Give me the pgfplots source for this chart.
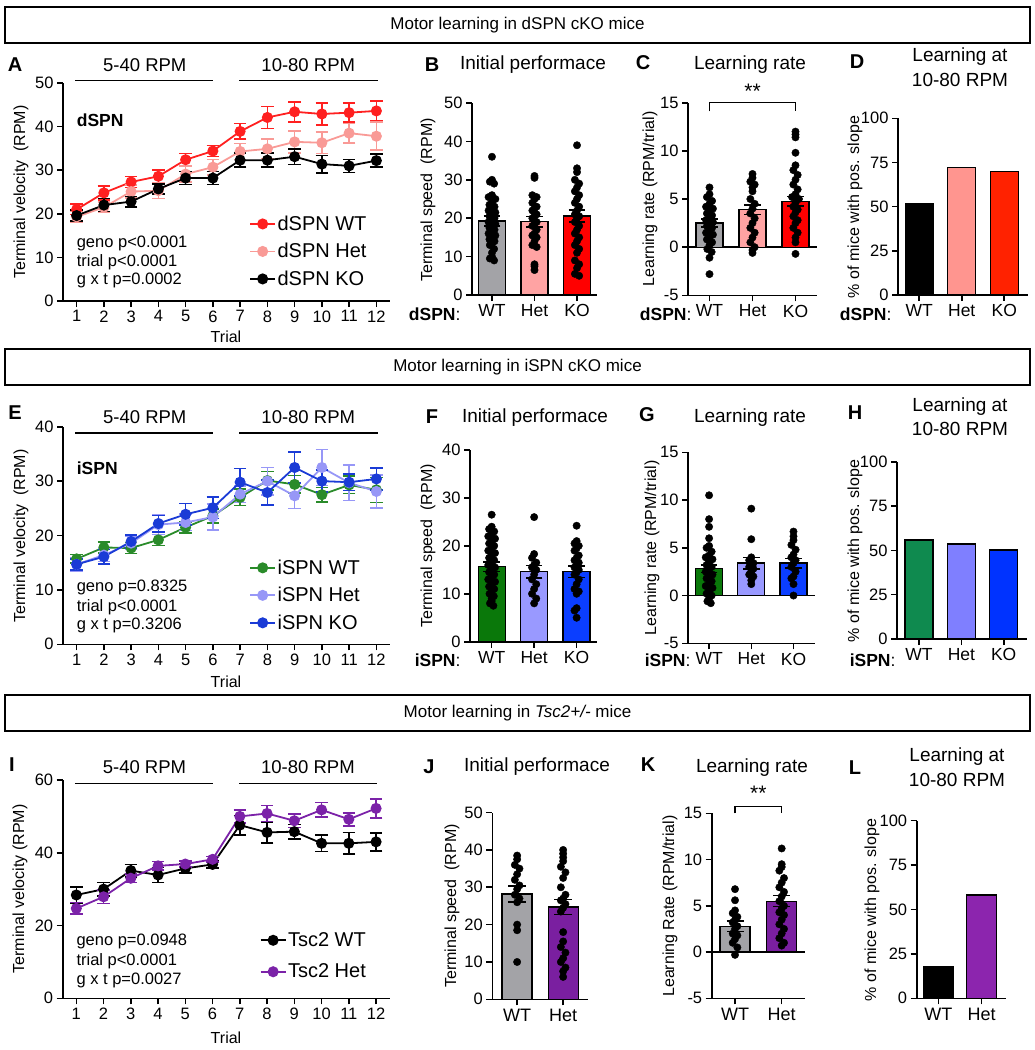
\documentclass[border=0pt]{standalone}
\usepackage{pgfplots}
\pgfplotsset{compat=1.18}
\usepackage{fontspec}
\setmainfont{Liberation Sans}
\newcommand{\fs}[1]{\fontsize{#1pt}{#1pt}\selectfont}
\definecolor{dred}{HTML}{FF2020}
\definecolor{dsal}{HTML}{F99A96}
\definecolor{bgray}{HTML}{A3A3A7}
\definecolor{bsal}{HTML}{FFA3A3}
\definecolor{bred}{HTML}{FF0000}
\definecolor{dsalD}{HTML}{FF958F}
\definecolor{dorD}{HTML}{FF2200}
\definecolor{igrn}{HTML}{2A8B2A}
\definecolor{ilav}{HTML}{9797F7}
\definecolor{iblu}{HTML}{1A3BD6}
\definecolor{fgrn}{HTML}{0A780A}
\definecolor{flav}{HTML}{9999FF}
\definecolor{fblu}{HTML}{0B3EFF}
\definecolor{hgrn}{HTML}{0F8A4F}
\definecolor{hlav}{HTML}{7F7FFF}
\definecolor{hblu}{HTML}{0033FF}
\definecolor{tpur}{HTML}{7B22A8}
\definecolor{jpur}{HTML}{7A1FA0}
\definecolor{lpur}{HTML}{8C25AE}
\pgfplotsset{
  gp/.style={scale only axis, anchor=south west, clip=false,
    axis lines=left, axis line style={-, line width=1.6pt, black},
    tick align=outside, major tick length=6pt,
    tick style={black, line width=1.6pt},
    tick label style={font=\fs{16.5}},
    /pgf/number format/assume math mode=true},
  barax/.style={gp, xtick={0,1,2}, xticklabels={WT,Het,KO}, xticklabel style={font=\fs{17.5}}},
  bar/.style={ybar, bar width=#1, bar shift=0pt, draw=black, line width=1.3pt},
  dots/.style={only marks, mark=*, mark size=3.7pt, black, mark options={fill=black, draw=black}},
  sem/.style={only marks, mark=none, forget plot, error bars/.cd, y dir=both, y explicit,
    error bar style={draw=black, line width=1.5pt},
    error mark options={rotate=90, mark size=#1, line width=1.5pt, draw=black}},
  ln/.style={color=#1, line width=1.8pt, mark=*, mark size=4.6pt, mark options={fill=#1, draw=#1, solid},
    error bars/.cd, y dir=both, y explicit, error bar style={line width=1.6pt, color=#1},
    error mark options={rotate=90, mark size=6.3pt, line width=1.6pt, color=#1}},
  lgd/.style={legend style={draw=none, fill=none, at={#1}, anchor=north west, font=\fs{20},
    inner sep=0pt, row sep=8.5pt, nodes={inner sep=1.5pt}},
    legend cell align=left,
    legend image code/.code={\draw[mark repeat=2, mark phase=2] plot coordinates {(0pt,0pt) (12.5pt,0pt) (25pt,0pt)};}},
}
\begin{document}
\begin{tikzpicture}[x=1pt, y=-1pt]
\useasboundingbox (0,0) rectangle (1034,1050);
% ---------------- headers
\draw[line width=1.6pt] (5,7) rectangle (1030,43);
\node[font=\fs{17}] at (517.5,25) {Motor learning in dSPN cKO mice};
\draw[line width=1.6pt] (5,349) rectangle (1030,385);
\node[font=\fs{17}] at (517.5,367) {Motor learning in iSPN cKO mice};
\draw[line width=1.6pt] (5,695) rectangle (1030,731);
\node[font=\fs{17}] at (517.5,713) {Motor learning in \textit{Tsc2+/-} mice};
% ---------------- panel letters
\foreach \L/\x/\y in {A/15/65, B/432/65, C/643/63, D/857/62, E/15/413, F/432/417, G/647/415, H/855/413, I/12/765, J/429/767, K/648/765, L/855/768}
  \node[font=\fs{20}\bfseries] at (\x,\y) {\L};
% ---------------- titles
\node[font=\fs{19}] at (533,65) {Initial performace};
\node[font=\fs{19}] at (750,65) {Learning rate};
\node[font=\fs{19}] at (960,57) {Learning at};
\node[font=\fs{19}] at (960,80) {10-80 RPM};
\node[font=\fs{19}] at (535,418) {Initial performace};
\node[font=\fs{19}] at (750,418) {Learning rate};
\node[font=\fs{19}] at (960,407) {Learning at};
\node[font=\fs{19}] at (960,429) {10-80 RPM};
\node[font=\fs{19}] at (537,767) {Initial performace};
\node[font=\fs{19}] at (752,768) {Learning rate};
\node[font=\fs{19}] at (957,757) {Learning at};
\node[font=\fs{19}] at (957,780) {10-80 RPM};
% ---------------- y labels
\node[font=\fs{16}, rotate=90] at (21,192) {Terminal velocity\ \ (RPM)};
\node[font=\fs{16}, rotate=90] at (428,200) {Terminal speed\ \ (RPM)};
\node[font=\fs{16}, rotate=90] at (650,199) {Learning rate (RPM/trial)};
\node[font=\fs{16}, rotate=90] at (855,207) {\% of mice with pos. slope};
\node[font=\fs{16}, rotate=90] at (21,536) {Terminal velocity\ \ (RPM)};
\node[font=\fs{16}, rotate=90] at (428,546) {Terminal speed\ \ (RPM)};
\node[font=\fs{16}, rotate=90] at (652,548) {Learning rate (RPM/trial)};
\node[font=\fs{16}, rotate=90] at (855,551) {\% of mice with pos. slope};
\node[font=\fs{16}, rotate=90] at (20,889) {Terminal velocity (RPM)};
\node[font=\fs{16}, rotate=90] at (452,906) {Terminal speed\ \ (RPM)};
\node[font=\fs{16}, rotate=90] at (670,906) {Learning Rate (RPM/trial)};
\node[font=\fs{16}, rotate=90] at (872,910) {\% of mice with pos. slope};
% ---------------- x labels
\node[font=\fs{16}] at (226,337) {Trial};
\node[font=\fs{16}] at (226,682) {Trial};
\node[font=\fs{16}] at (226,1038) {Trial};
\foreach \x/\y/\t in {464/314/dSPN, 695/314/dSPN, 895/314/dSPN, 464/660/iSPN, 694/660/iSPN, 899/660/iSPN}
  \node[font=\fs{17.5}, anchor=east] at (\x,\y) {\textbf{\t}:};

% ================= A
\begin{axis}[gp, at={(63pt,-301pt)}, width=327pt, height=218pt, xmin=0.5, xmax=12.5, ymin=0, ymax=50,
  xtick={1,...,12}, ytick={0,10,...,50}, lgd={(0.569,0.398)}]
\addplot[ln=dred] coordinates {(1,21.0)+-(0,1.2) (2,24.8)+-(0,1.6) (3,27.3)+-(0,1.3) (4,28.6)+-(0,1.4) (5,32.4)+-(0,1.4) (6,34.4)+-(0,1.3) (7,38.9)+-(0,1.8) (8,42.1)+-(0,2.5) (9,43.4)+-(0,2.3) (10,42.9)+-(0,2.5) (11,43.2)+-(0,2.2) (12,43.6)+-(0,2.3)};
\addlegendentry{dSPN WT}
\addplot[ln=dsal] coordinates {(1,19.3)+-(0,1.2) (2,21.5)+-(0,1.2) (3,25.1)+-(0,1.5) (4,25.3)+-(0,1.8) (5,29.1)+-(0,1.8) (6,30.7)+-(0,1.8) (7,34.3)+-(0,1.8) (8,34.9)+-(0,2.2) (9,36.5)+-(0,2.5) (10,36.3)+-(0,2.5) (11,38.5)+-(0,2.2) (12,37.8)+-(0,3.2)};
\addlegendentry{dSPN Het}
\addplot[ln=black] coordinates {(1,19.6)+-(0,1.3) (2,22.0)+-(0,1.5) (3,22.8)+-(0,1.2) (4,25.7)+-(0,1.2) (5,28.2)+-(0,1.5) (6,28.2)+-(0,1.5) (7,32.3)+-(0,1.6) (8,32.3)+-(0,1.6) (9,33.1)+-(0,1.8) (10,31.4)+-(0,2.0) (11,31.0)+-(0,1.5) (12,32.2)+-(0,1.5)};
\addlegendentry{dSPN KO}
\draw[line width=1.5pt] (axis cs:0.95,50.6) -- (axis cs:6,50.6);
\draw[line width=1.5pt] (axis cs:6.97,50.6) -- (axis cs:12.05,50.6);
\node[font=\fs{18.5}] at (axis cs:3.5,54.1) {5-40 RPM};
\node[font=\fs{18.5}] at (axis cs:9.5,54.1) {10-80 RPM};
\node[font=\fs{17.5}\bfseries, anchor=west, inner sep=0pt] at (axis cs:1,41.5) {dSPN};
\node[font=\fs{16.5}, anchor=west, inner sep=0pt] at (axis cs:1,13.3) {geno p<0.0001};
\node[font=\fs{16.5}, anchor=west, inner sep=0pt] at (axis cs:1,8.9) {trial p<0.0001};
\node[font=\fs{16.5}, anchor=west, inner sep=0pt] at (axis cs:1,4.8) {g x t p=0.0002};
\end{axis}

% ================= B
\begin{axis}[barax, at={(472pt,-295pt)}, width=125pt, height=192pt, xmin=-0.47, xmax=2.47, ymin=0, ymax=50, ytick={0,10,...,50}]
\addplot[bar=27pt, fill=bgray] coordinates {(0,19.3)};
\addplot[bar=27pt, fill=bsal] coordinates {(1,19.1)};
\addplot[bar=27pt, fill=bred] coordinates {(2,20.6)};
\addplot[dots] coordinates {(0,36) (0,30) (-0.05,29.5) (0.05,29) (0,26) (-0.08,25.5) (0.08,25) (0,24) (-0.06,23.5) (0.06,23) (0,22.5) (-0.08,22) (0.08,21.5) (0,21) (-0.06,20.5) (0.06,20) (0,19.5) (-0.08,19) (0.08,18.5) (0,18) (-0.06,17.5) (0.06,17) (0,16.5) (-0.08,16) (0.08,15.5) (0,15) (-0.06,14.5) (0.06,14) (0,13.5) (-0.05,13) (0.05,12) (0,11) (0,10) (-0.05,9.5) (0.05,9)};
\addplot[dots] coordinates {(1,31) (1,30.5) (0.95,26) (1.05,25.5) (1,25) (0.95,24) (1.05,23) (1,22.5) (0.95,22) (1.05,21) (1,20.5) (0.95,20) (1.05,19) (1,18.5) (0.95,18) (1.05,17) (1,16) (0.95,15.5) (1.05,15) (1,14) (0.95,13) (1.05,12.5) (1,8) (1,7.5) (1,6.5)};
\addplot[dots] coordinates {(2,39) (2,33) (2,32) (1.95,30) (2.05,29) (2,28) (1.95,27) (2.05,26) (2,25) (1.95,24) (2.05,23) (2,22) (1.95,21) (2.05,20.5) (2,20) (1.95,19) (2.05,18) (2,17) (1.95,16) (2.05,15) (2,14) (1.95,13) (2.05,12) (2,11) (1.95,9) (2.05,8) (2,7) (1.95,5.5) (2.05,5)};
\addplot[sem=8.3pt] coordinates {(0,19.3)+-(0,1.3) (1,19.1)+-(0,1.4) (2,20.6)+-(0,1.6)};
\end{axis}

% ================= C
\begin{axis}[barax, at={(688pt,-295.3pt)}, width=129pt, height=192.6pt, xmin=-0.5, xmax=2.5, ymin=-5, ymax=15, ytick={-5,0,5,10,15}]
\draw[line width=1.5pt] (axis cs:-0.5,0) -- (axis cs:2.5,0);
\addplot[bar=27pt, fill=bgray] coordinates {(0,2.5)};
\addplot[bar=27pt, fill=bsal] coordinates {(1,3.9)};
\addplot[bar=27pt, fill=bred] coordinates {(2,4.75)};
\addplot[dots] coordinates {(0,6.2) (0,5.5) (-0.06,5.2) (0.06,4.8) (0,4.5) (-0.08,4.2) (0.08,4) (0,3.8) (-0.06,3.5) (0.06,3.3) (0,3) (-0.08,2.8) (0.08,2.6) (0,2.4) (-0.06,2.2) (0.06,2) (0,1.8) (-0.08,1.5) (0.08,1.3) (0,1) (-0.06,0.8) (0.06,0.5) (0,0.2) (-0.05,-0.2) (0.05,-0.5) (0,-1.1) (0,-2.8)};
\addplot[dots] coordinates {(1,7.6) (1,7.2) (0.95,6.8) (1.05,6.5) (1,6.2) (1,5.8) (0.95,5) (1.05,4.5) (1,4) (0.95,3.5) (1.05,3) (1,2.5) (0.95,2) (1.05,1.5) (1,1) (0.95,0.5) (1.05,0) (1,-0.3) (1,-0.6)};
\addplot[dots] coordinates {(2,12) (2,11.7) (2,11.4) (2,9.8) (2,8.5) (1.95,8) (2.05,7.5) (2,7) (1.95,6.5) (2.05,6) (2,5.5) (1.92,5.2) (2.08,5) (2,4.6) (1.95,4.2) (2.05,3.9) (2,3.6) (1.95,3.2) (2.05,2.8) (2,2.5) (1.95,2) (2.05,1.5) (2,1) (2,0.5) (2,-0.7)};
\addplot[sem=8.3pt] coordinates {(0,2.5)+-(0,0.4) (1,3.9)+-(0,0.5) (2,4.75)+-(0,0.5)};
\draw[line width=1.3pt] (axis cs:0,14.1) -- (axis cs:0,15) -- (axis cs:2,15) -- (axis cs:2,14.1);
\node[font=\fs{21}] at (axis cs:1,16.2) {**};
\end{axis}

% ================= D
\begin{axis}[barax, at={(898pt,-295pt)}, width=129.6pt, height=176.7pt, xmin=-0.5, xmax=2.55, ymin=0, ymax=100, ytick={0,25,50,75,100}]
\addplot[bar=28pt, fill=black] coordinates {(0,51.7)};
\addplot[bar=28pt, fill=dsalD] coordinates {(1,72.3)};
\addplot[bar=28pt, fill=dorD] coordinates {(2,69.8)};
\end{axis}

% ================= E
\begin{axis}[gp, at={(63pt,-644.3pt)}, width=327pt, height=217.6pt, xmin=0.5, xmax=12.5, ymin=0, ymax=40,
  xtick={1,...,12}, ytick={0,10,...,40}, lgd={(0.569,0.396)}]
\addplot[ln=igrn] coordinates {(1,15.7)+-(0,0.8) (2,17.8)+-(0,1.0) (3,17.7)+-(0,1.0) (4,19.2)+-(0,1.0) (5,21.5)+-(0,1.0) (6,23.6)+-(0,1.3) (7,27.0)+-(0,1.5) (8,30.1)+-(0,1.7) (9,29.4)+-(0,1.6) (10,27.5)+-(0,1.3) (11,29.3)+-(0,1.6) (12,28.4)+-(0,2.3)};
\addlegendentry{iSPN WT}
\addplot[ln=ilav] coordinates {(1,14.7)+-(0,1.2) (2,16.4)+-(0,1.2) (3,18.6)+-(0,1.2) (4,22.0)+-(0,1.8) (5,22.4)+-(0,1.5) (6,23.4)+-(0,2.4) (7,27.6)+-(0,1.5) (8,30.0)+-(0,2.5) (9,27.3)+-(0,2.3) (10,32.5)+-(0,3.3) (11,29.7)+-(0,3.3) (12,28.1)+-(0,3.0)};
\addlegendentry{iSPN Het}
\addplot[ln=iblu] coordinates {(1,14.7)+-(0,1.0) (2,16.1)+-(0,1.3) (3,18.9)+-(0,1.2) (4,22.2)+-(0,1.5) (5,23.9)+-(0,2.0) (6,25.1)+-(0,2.0) (7,29.8)+-(0,2.5) (8,27.9)+-(0,2.3) (9,32.5)+-(0,2.8) (10,30.0)+-(0,2.0) (11,29.8)+-(0,1.5) (12,30.4)+-(0,2.0)};
\addlegendentry{iSPN KO}
\draw[line width=1.5pt] (axis cs:0.95,38.8) -- (axis cs:6,38.8);
\draw[line width=1.5pt] (axis cs:6.97,38.8) -- (axis cs:12.05,38.8);
\node[font=\fs{18.5}] at (axis cs:3.5,41.8) {5-40 RPM};
\node[font=\fs{18.5}] at (axis cs:9.5,41.8) {10-80 RPM};
\node[font=\fs{17.5}\bfseries, anchor=west, inner sep=0pt] at (axis cs:1,32.4) {iSPN};
\node[font=\fs{16.5}, anchor=west, inner sep=0pt] at (axis cs:1,10.4) {geno p=0.8325};
\node[font=\fs{16.5}, anchor=west, inner sep=0pt] at (axis cs:1,6.9) {trial p<0.0001};
\node[font=\fs{16.5}, anchor=west, inner sep=0pt] at (axis cs:1,3.55) {g x t p=0.3206};
\end{axis}

% ================= F
\begin{axis}[barax, at={(470pt,-641.7pt)}, width=126.6pt, height=191.7pt, xmin=-0.51, xmax=2.47, ymin=0, ymax=40, ytick={0,10,...,40}]
\addplot[bar=27pt, fill=fgrn] coordinates {(0,15.65)};
\addplot[bar=27pt, fill=flav] coordinates {(1,14.6)};
\addplot[bar=27pt, fill=fblu] coordinates {(2,14.6)};
\addplot[dots] coordinates {(0,26.5) (0,24) (-0.06,23.5) (0.06,23) (0,22.5) (-0.08,22) (0.08,21.5) (0,21) (-0.06,20.5) (0.06,20) (0,19.5) (-0.08,19) (0.08,18.5) (0,18) (-0.06,17.5) (0.06,17) (0,16.5) (-0.08,16) (0.08,15.5) (0,15) (-0.06,14.5) (0.06,14) (0,13.5) (-0.08,13) (0.08,12.5) (0,12) (-0.06,11.5) (0.06,11) (0,10.5) (-0.05,10) (0.05,9.5) (0,9) (0,8.5) (-0.04,8) (0.04,7.5)};
\addplot[dots] coordinates {(1,26) (1,18.3) (0.95,17.5) (1.05,16.5) (1,16) (0.95,15.5) (1.05,15) (1,14) (0.95,13) (1.05,12) (1,11) (0.95,10) (1.05,9) (1,8)};
\addplot[dots] coordinates {(2,24.2) (2,21) (1.95,20.5) (2.05,20) (2,19.5) (1.95,19) (2.05,18) (2,17.5) (1.95,17) (2.05,16.5) (2,16) (1.95,15.5) (2.05,15) (2,14.5) (1.95,14) (2.05,13) (2,12) (1.95,11) (2.05,10.5) (2,10) (2,7) (1.95,6.5) (2,5)};
\addplot[sem=8.3pt] coordinates {(0,15.65)+-(0,1.0) (1,14.6)+-(0,1.3) (2,14.6)+-(0,1.2)};
\end{axis}

% ================= G
\begin{axis}[barax, at={(688pt,-643.3pt)}, width=126.6pt, height=191pt, xmin=-0.5, xmax=2.5, ymin=-5, ymax=15, ytick={-5,0,5,10,15}]
\draw[line width=1.5pt] (axis cs:-0.5,0) -- (axis cs:2.5,0);
\addplot[bar=27pt, fill=fgrn] coordinates {(0,2.8)};
\addplot[bar=27pt, fill=flav] coordinates {(1,3.4)};
\addplot[bar=27pt, fill=fblu] coordinates {(2,3.4)};
\addplot[dots] coordinates {(0,10.5) (0,8) (0,7.2) (0,6) (0,5.2) (-0.06,5) (0.06,4.6) (0,4.2) (-0.08,4) (0.08,3.8) (0,3.5) (-0.06,3.2) (0.06,3) (0,2.8) (-0.08,2.5) (0.08,2.2) (0,2) (-0.06,1.8) (0.06,1.5) (0,1.2) (-0.08,1) (0.08,0.8) (0,0.5) (-0.06,0.2) (0.06,0) (0,-0.3) (-0.04,-0.6) (0.04,-0.8)};
\addplot[dots] coordinates {(1,9.1) (1,5.9) (1,4) (0.95,3.7) (1.05,3.4) (1,3.2) (0.95,3) (1.05,2.8) (1,2.5) (0.95,2.2) (1.05,2) (1,1.6) (1,1.2)};
\addplot[dots] coordinates {(2,6.7) (2,6.2) (2,5.8) (1.95,5.3) (2.05,4.8) (2,4.3) (1.95,4) (2.05,3.7) (2,3.4) (1.95,3) (2.05,2.5) (2,2) (1.95,1.8) (2,1.2) (2,0)};
\addplot[sem=8.3pt] coordinates {(0,2.8)+-(0,0.4) (1,3.4)+-(0,0.6) (2,3.4)+-(0,0.5)};
\end{axis}

% ================= H
\begin{axis}[barax, at={(897pt,-639pt)}, width=130pt, height=177.3pt, xmin=-0.52, xmax=2.55, ymin=0, ymax=100, ytick={0,25,50,75,100}]
\addplot[bar=28pt, fill=hgrn] coordinates {(0,55.8)};
\addplot[bar=28pt, fill=hlav] coordinates {(1,53.6)};
\addplot[bar=28pt, fill=hblu] coordinates {(2,50.2)};
\end{axis}

% ================= I
\begin{axis}[gp, at={(62.7pt,-998.3pt)}, width=327pt, height=218.3pt, xmin=0.5, xmax=12.5, ymin=0, ymax=60,
  xtick={1,...,12}, ytick={0,20,40,60}, lgd={(0.602,0.309)}, legend style={row sep=13pt}]
\addplot[ln=black] coordinates {(1,28.4)+-(0,2.2) (2,30.0)+-(0,1.8) (3,35.1)+-(0,1.7) (4,33.9)+-(0,2.1) (5,35.7)+-(0,1.3) (6,36.8)+-(0,1.0) (7,47.6)+-(0,2.7) (8,45.6)+-(0,2.9) (9,45.8)+-(0,2.0) (10,42.6)+-(0,2.3) (11,42.6)+-(0,3.0) (12,43.0)+-(0,2.5)};
\addlegendentry{Tsc2 WT}
\addplot[ln=tpur] coordinates {(1,24.7)+-(0,1.6) (2,27.9)+-(0,1.8) (3,33.0)+-(0,1.2) (4,36.4)+-(0,1.2) (5,36.9)+-(0,0.8) (6,38.2)+-(0,0.8) (7,50.0)+-(0,1.8) (8,50.8)+-(0,2.2) (9,48.8)+-(0,1.8) (10,51.8)+-(0,2.0) (11,49.2)+-(0,1.8) (12,52.2)+-(0,2.6)};
\addlegendentry{Tsc2 Het}
\draw[line width=1.5pt] (axis cs:0.95,59.1) -- (axis cs:6,59.1);
\draw[line width=1.5pt] (axis cs:6.97,59.1) -- (axis cs:12.05,59.1);
\node[font=\fs{18.5}] at (axis cs:3.5,63.5) {5-40 RPM};
\node[font=\fs{18.5}] at (axis cs:9.5,63.5) {10-80 RPM};
\node[font=\fs{16.5}, anchor=west, inner sep=0pt] at (axis cs:1,15.5) {geno p=0.0948};
\node[font=\fs{16.5}, anchor=west, inner sep=0pt] at (axis cs:1,10.1) {trial p<0.0001};
\node[font=\fs{16.5}, anchor=west, inner sep=0pt] at (axis cs:1,5.0) {g x t p=0.0027};
\end{axis}

% ================= J
\begin{axis}[gp, at={(492.3pt,-999.3pt)}, width=95.7pt, height=186.7pt, xmin=-0.54, xmax=1.54, ymin=0, ymax=50,
  xtick={0,1}, xticklabels={WT,Het}, ytick={0,10,...,50}, xticklabel style={font=\fs{18}}]
\addplot[bar=30pt, fill=bgray] coordinates {(0,28.2)};
\addplot[bar=30pt, fill=jpur] coordinates {(1,24.7)};
\addplot[dots] coordinates {(0,38.5) (0,37.5) (-0.05,36) (0.05,35) (0,33.5) (-0.05,32) (0.05,30.5) (0,29.5) (-0.05,28) (0.05,27) (0,26) (0,20) (0,18.5) (0,10)};
\addplot[dots] coordinates {(1,40) (1,39) (1,38) (1,37) (0.95,35.5) (1.05,34) (1,32.5) (0.95,30) (1.05,28) (1,27) (0.95,26.5) (1.05,25.5) (1,24.5) (0.95,23.5) (1,18) (1,15.5) (0.95,14) (1.05,12.5) (1,11) (0.95,10) (1.05,8.5) (1,7.5) (1,6)};
\addplot[sem=9pt] coordinates {(0,28.2)+-(0,2.2) (1,24.7)+-(0,2.0)};
\end{axis}

% ================= K
\begin{axis}[gp, at={(711.7pt,-998.3pt)}, width=93.3pt, height=185pt, xmin=-0.5, xmax=1.5, ymin=-5, ymax=15,
  xtick={0,1}, xticklabels={WT,Het}, ytick={-5,0,5,10,15}, xticklabel style={font=\fs{18}}]
\draw[line width=1.5pt] (axis cs:-0.5,0) -- (axis cs:1.5,0);
\addplot[bar=30pt, fill=bgray] coordinates {(0,2.8)};
\addplot[bar=30pt, fill=jpur] coordinates {(1,5.5)};
\addplot[dots] coordinates {(0,6.8) (0,5.6) (0,4.5) (-0.05,4.2) (0.05,3.8) (0,3.5) (-0.05,3.2) (0.05,2.8) (0,2.5) (-0.05,2) (0.05,1.8) (0,1.4) (-0.05,1) (0.05,0.5) (0,-0.3)};
\addplot[dots] coordinates {(1,11.2) (1,9.5) (1,9.2) (0.95,8.8) (1.05,8) (1,7.5) (0.95,7) (1.05,6.5) (1,6) (0.95,5.5) (1.05,5) (1,4.7) (0.95,4.3) (1.05,4) (1,3.5) (0.95,3) (1.05,2.5) (1,2) (0.95,1.5) (1.05,1) (1,0.7)};
\addplot[sem=8.5pt] coordinates {(0,2.8)+-(0,0.55) (1,5.5)+-(0,0.6)};
\draw[line width=1.3pt] (axis cs:0,15) -- (axis cs:0,15.7) -- (axis cs:1,15.7) -- (axis cs:1,15);
\node[font=\fs{21}] at (axis cs:0.5,17.2) {**};
\end{axis}

% ================= L
\begin{axis}[gp, at={(916.7pt,-998.3pt)}, width=89.2pt, height=177.7pt, xmin=-0.5, xmax=1.56, ymin=0, ymax=100,
  xtick={0,1}, xticklabels={WT,Het}, ytick={0,25,50,75,100}, xticklabel style={font=\fs{18}}]
\addplot[bar=30pt, fill=black] coordinates {(0,17.8)};
\addplot[bar=30pt, fill=lpur] coordinates {(1,58.1)};
\end{axis}
\end{tikzpicture}
\end{document}
